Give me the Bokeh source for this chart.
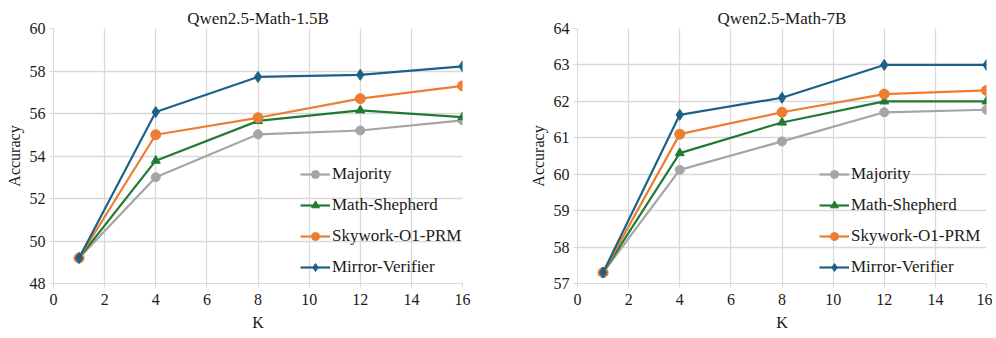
from bokeh.plotting import figure
from bokeh.layouts import row
from bokeh.models import Legend, LegendItem, FixedTicker
from bokeh.embed import file_html
from bokeh.resources import INLINE

K = [1, 4, 8, 12, 16]
series_names = ["Majority", "Math-Shepherd", "Skywork-O1-PRM", "Mirror-Verifier"]

# Qwen2.5-Math-1.5B
small_majority = [49.2, 53.0, 55.02, 55.2, 55.68]
small_shepherd = [49.2, 53.78, 55.65, 56.15, 55.83]
small_skywork = [49.2, 55.0, 55.8, 56.7, 57.3]
small_mirror = [49.2, 56.07, 57.72, 57.82, 58.22]

# Qwen2.5-Math-7B
large_majority = [57.3, 60.12, 60.9, 61.7, 61.77]
large_shepherd = [57.3, 60.58, 61.42, 62.0, 62.0]
large_skywork = [57.3, 61.1, 61.7, 62.2, 62.3]
large_mirror = [57.3, 61.63, 62.1, 63.0, 63.0]

colors = ["#A5A5A5", "#217A34", "#ED7D31", "#1D6188"]
markers = ["circle", "triangle", "circle", "diamond"]
msizes = [9, 9, 10, 11]

FONT = "Times New Roman"
GRID = "#D9D9D9"
TXT = "#1a1a1a"


def make_panel(title, series, y0, y1, width, bl, br, legend_x):
    p = figure(width=width, height=334, x_range=(0, 16), y_range=(y0, y1),
               output_backend="svg", toolbar_location=None,
               min_border_left=bl, min_border_right=br, min_border_top=28,
               min_border_bottom=51)
    p.outline_line_color = None
    p.title.text = title
    p.title.align = "center"
    p.title.text_font = FONT
    p.title.text_font_size = "17px"
    p.title.text_font_style = "normal"
    p.title.text_color = TXT
    p.title.offset = 0
    p.title.standoff = 2

    items = []
    for name, ys, c, m, s in zip(series_names, series, colors, markers, msizes):
        r1 = p.line(K, ys, line_color=c, line_width=2.2)
        r2 = p.scatter(K, ys, marker=m, size=s, fill_color=c, line_color=c)
        items.append(LegendItem(label=name, renderers=[r1, r2]))

    legend = Legend(items=items, location=(legend_x, 6))
    legend.background_fill_alpha = 0
    legend.border_line_color = None
    legend.padding = 0
    legend.margin = 0
    legend.spacing = 11
    legend.glyph_width = 30
    legend.glyph_height = 20
    legend.label_height = 20
    legend.label_standoff = 2
    legend.label_text_font = FONT
    legend.label_text_font_size = "17px"
    legend.label_text_color = TXT
    p.add_layout(legend, "center")

    p.xaxis.ticker = FixedTicker(ticks=list(range(0, 17, 2)))
    p.yaxis.ticker = FixedTicker(ticks=list(range(int(y0), int(y1) + 1, 2 if (y1 - y0) > 8 else 1)))
    for ax in [p.xaxis[0], p.yaxis[0]]:
        ax.axis_line_color = GRID
        ax.major_tick_line_color = GRID
        ax.major_tick_out = 4
        ax.major_tick_in = 0
        ax.minor_tick_line_color = None
        ax.major_label_text_font = FONT
        ax.major_label_text_font_size = "16px"
        ax.major_label_text_color = TXT
        ax.axis_label_text_font = FONT
        ax.axis_label_text_font_size = "16px"
        ax.axis_label_text_font_style = "normal"
        ax.axis_label_text_color = TXT
    p.xaxis.axis_label = "K"
    p.yaxis.axis_label = "Accuracy"
    p.xaxis.major_label_standoff = 6
    p.yaxis.major_label_standoff = 4
    p.xaxis.axis_label_standoff = 6
    p.yaxis.axis_label_standoff = 4
    p.xgrid.grid_line_color = GRID
    p.ygrid.grid_line_color = GRID
    p.xgrid.grid_line_width = 1.3
    p.ygrid.grid_line_width = 1.3
    return p


p1 = make_panel("Qwen2.5-Math-1.5B",
                [small_majority, small_shepherd, small_skywork, small_mirror],
                48, 60, 496, 53, 34, 247)
p2 = make_panel("Qwen2.5-Math-7B",
                [large_majority, large_shepherd, large_skywork, large_mirror],
                57, 64, 496, 81, 6, 242)

layout = row(p1, p2)
open("out.html", "w").write(file_html(layout, INLINE))
